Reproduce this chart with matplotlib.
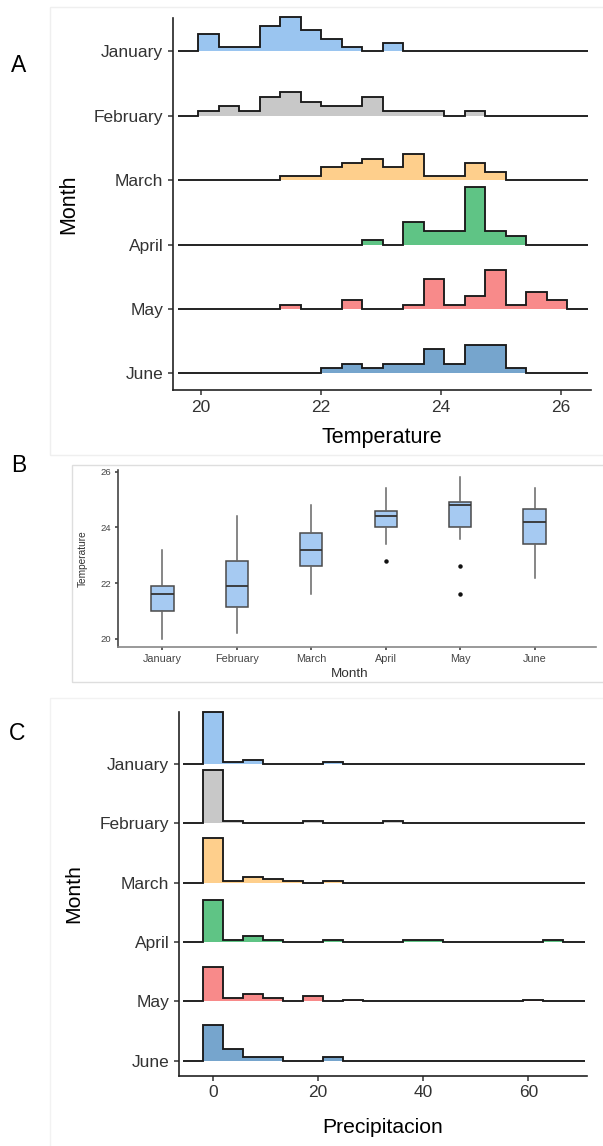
import numpy as np
import matplotlib
matplotlib.use("Agg")
import matplotlib.pyplot as plt
from matplotlib.patches import Rectangle

plt.rcParams['font.family'] = ['Liberation Sans', 'DejaVu Sans']

W, H = 603, 1146

months = ['January', 'February', 'March', 'April', 'May', 'June']
ridge_colors = ['#9AC5F0', '#C8C8C8', '#FECF8C', '#5FC485', '#F88A8A', '#76A5CD']

# panel A: temperature histogram counts (18 bins)
temp_bin_start = 19.95
temp_bin_width = 0.3417
temp_counts = [
    [4, 1, 1, 6, 8, 5, 3, 1, 0, 2, 0, 0, 0, 0, 0, 0, 0, 0],
    [1, 2, 1, 4, 5, 3, 2, 2, 4, 1, 1, 1, 0, 1, 0, 0, 0, 0],
    [0, 0, 0, 0, 1, 1, 3, 4, 5, 3, 6, 1, 1, 4, 2, 0, 0, 0],
    [0, 0, 0, 0, 0, 0, 0, 0, 1, 0, 5, 3, 3, 13, 3, 2, 0, 0],
    [0, 0, 0, 0, 1, 0, 0, 2, 0, 0, 1, 7, 1, 3, 9, 1, 4, 2],
    [0, 0, 0, 0, 0, 0, 1, 2, 1, 2, 2, 5, 2, 6, 6, 1, 0, 0],
]

# panel C: precipitation histogram counts (18 bins)
precip_bin_start = -1.905
precip_bin_width = 3.81
precip_counts = [
    [27, 1, 2, 0, 0, 0, 1, 0, 0, 0, 0, 0, 0, 0, 0, 0, 0, 0],
    [25, 1, 0, 0, 0, 1, 0, 0, 0, 1, 0, 0, 0, 0, 0, 0, 0, 0],
    [23, 1, 3, 2, 1, 0, 1, 0, 0, 0, 0, 0, 0, 0, 0, 0, 0, 0],
    [21, 1, 3, 1, 0, 0, 1, 0, 0, 0, 1, 1, 0, 0, 0, 0, 0, 1],
    [18, 2, 4, 2, 0, 3, 0, 1, 0, 0, 0, 0, 0, 0, 0, 0, 1, 0],
    [18, 6, 2, 2, 0, 0, 2, 0, 0, 0, 0, 0, 0, 0, 0, 0, 0, 0],
]

# panel B: boxplot summaries
box_whislo = [20.0, 20.2, 21.6, 23.4, 23.6, 22.2]
box_q1 = [21.0, 21.15, 22.6, 24.0, 24.0, 23.4]
box_med = [21.6, 21.9, 23.2, 24.4, 24.8, 24.2]
box_q3 = [21.9, 22.8, 23.8, 24.6, 24.9, 24.65]
box_whishi = [23.2, 24.4, 24.8, 25.4, 25.8, 25.4]
box_fliers = [[], [], [], [22.8], [22.6, 21.6], []]


def fig_rect(left, top, right, bottom):
    return [left / W, 1 - bottom / H, (right - left) / W, (bottom - top) / H]


def ridges(ax, counts, start, width, line_range, scale=0.9):
    nb = len(counts[0])
    edges = start + width * np.arange(nb + 1)
    dens = [np.array(c) / (sum(c) * width) for c in counts]
    top = max(d.max() for d in dens)
    n = len(counts)
    for i, d in enumerate(dens):
        y0 = n - i
        h = d / top * scale
        ax.stairs(y0 + h, edges, baseline=y0, fill=True,
                  color=ridge_colors[i], lw=0, zorder=2 + i, clip_on=False)
        vals = np.concatenate([[0], h, [0]])
        ed = np.concatenate([[line_range[0]], edges, [line_range[1]]])
        ax.stairs(y0 + vals, ed, baseline=None, color='#1a1a1a',
                  lw=1.35, zorder=2.5 + i, clip_on=False)
    ax.set_yticks(np.arange(n, 0, -1))
    ax.set_yticklabels(months)


def classic(ax, size=12.5):
    for s in ['top', 'right']:
        ax.spines[s].set_visible(False)
    for s in ['left', 'bottom']:
        ax.spines[s].set_color('#222222')
        ax.spines[s].set_linewidth(1.2)
    ax.tick_params(colors='#333333', labelcolor='#333333', labelsize=size,
                   length=3.5, width=1.1, pad=3.5)


fig = plt.figure(figsize=(W / 100, H / 100), dpi=100)

# faint panel frames
for (l, t, r, b, c) in [(49.5, 7, 610, 455, '#efefef'),
                        (72, 465, 610, 681.5, '#dedede'),
                        (50, 698, 610, 1150, '#f2f2f2')]:
    fig.patches.append(Rectangle((l / W, 1 - b / H), (r - l) / W, (b - t) / H,
                                 transform=fig.transFigure, fill=False,
                                 ec=c, lw=1))

# panel A
axA = fig.add_axes(fig_rect(173, 18, 591, 390))
ridges(axA, temp_counts, temp_bin_start, temp_bin_width, (19.62, 26.45))
axA.set_xlim(19.53, 26.5)
axA.set_ylim(0.74, 6.52)
axA.set_xticks([20, 22, 24, 26])
classic(axA)
axA.set_xlabel('Temperature', fontsize=15.5)
axA.set_ylabel('Month', fontsize=15.5)
axA.xaxis.set_label_coords(0.5, -0.1)
axA.yaxis.set_label_coords(-0.225, 0.5)

# panel B
axB = fig.add_axes(fig_rect(117.7, 470, 595.7, 647.3))
stats = []
for i in range(len(months)):
    stats.append(dict(whislo=box_whislo[i], q1=box_q1[i], med=box_med[i],
                      q3=box_q3[i], whishi=box_whishi[i], fliers=box_fliers[i]))
axB.bxp(stats, positions=np.arange(1, 7), widths=0.3, patch_artist=True,
        showcaps=False,
        boxprops=dict(facecolor='#A6CAF2', edgecolor='#4a4a4a', lw=1.1),
        whiskerprops=dict(color='#666666', lw=1.1),
        medianprops=dict(color='#333333', lw=1.3),
        flierprops=dict(marker='o', markersize=2.2, markerfacecolor='#111111',
                        markeredgecolor='#111111'))
axB.set_xlim(0.4, 6.82)
axB.set_ylim(19.7, 26.06)
axB.set_yticks([20, 22, 24, 26])
axB.set_xticks(np.arange(1, 7))
axB.set_xticklabels(months)
classic(axB, size=7.8)
axB.spines['left'].set_color('#444444')
axB.spines['bottom'].set_color('#888888')
axB.tick_params(axis='y', labelsize=6.8)
axB.tick_params(length=2, pad=2.5, labelcolor='#444444')
axB.set_xlabel('Month', fontsize=9.7, color='#333333')
axB.set_ylabel('Temperature', fontsize=7.3, color='#333333')
axB.xaxis.set_label_coords(0.485, -0.115)
axB.yaxis.set_label_coords(-0.062, 0.5)

# panel C
axC = fig.add_axes(fig_rect(179, 711.7, 586.7, 1075.7))
ridges(axC, precip_counts, precip_bin_start, precip_bin_width, (-5.8, 70.7))
axC.set_xlim(-6.5, 71.1)
axC.set_ylim(0.75, 6.88)
axC.set_xticks([0, 20, 40, 60])
classic(axC)
axC.set_xlabel('Precipitacion', fontsize=15.2)
axC.set_ylabel('Month', fontsize=15.2)
axC.xaxis.set_label_coords(0.5, -0.115)
axC.yaxis.set_label_coords(-0.235, 0.5)

# panel letters
for letter, x, y in [('A', 18.3, 65), ('B', 19, 466), ('C', 17.5, 733)]:
    fig.text(x / W, 1 - y / H, letter, fontsize=16.5, ha='center', va='center')

fig.savefig('out.png', dpi=100)
